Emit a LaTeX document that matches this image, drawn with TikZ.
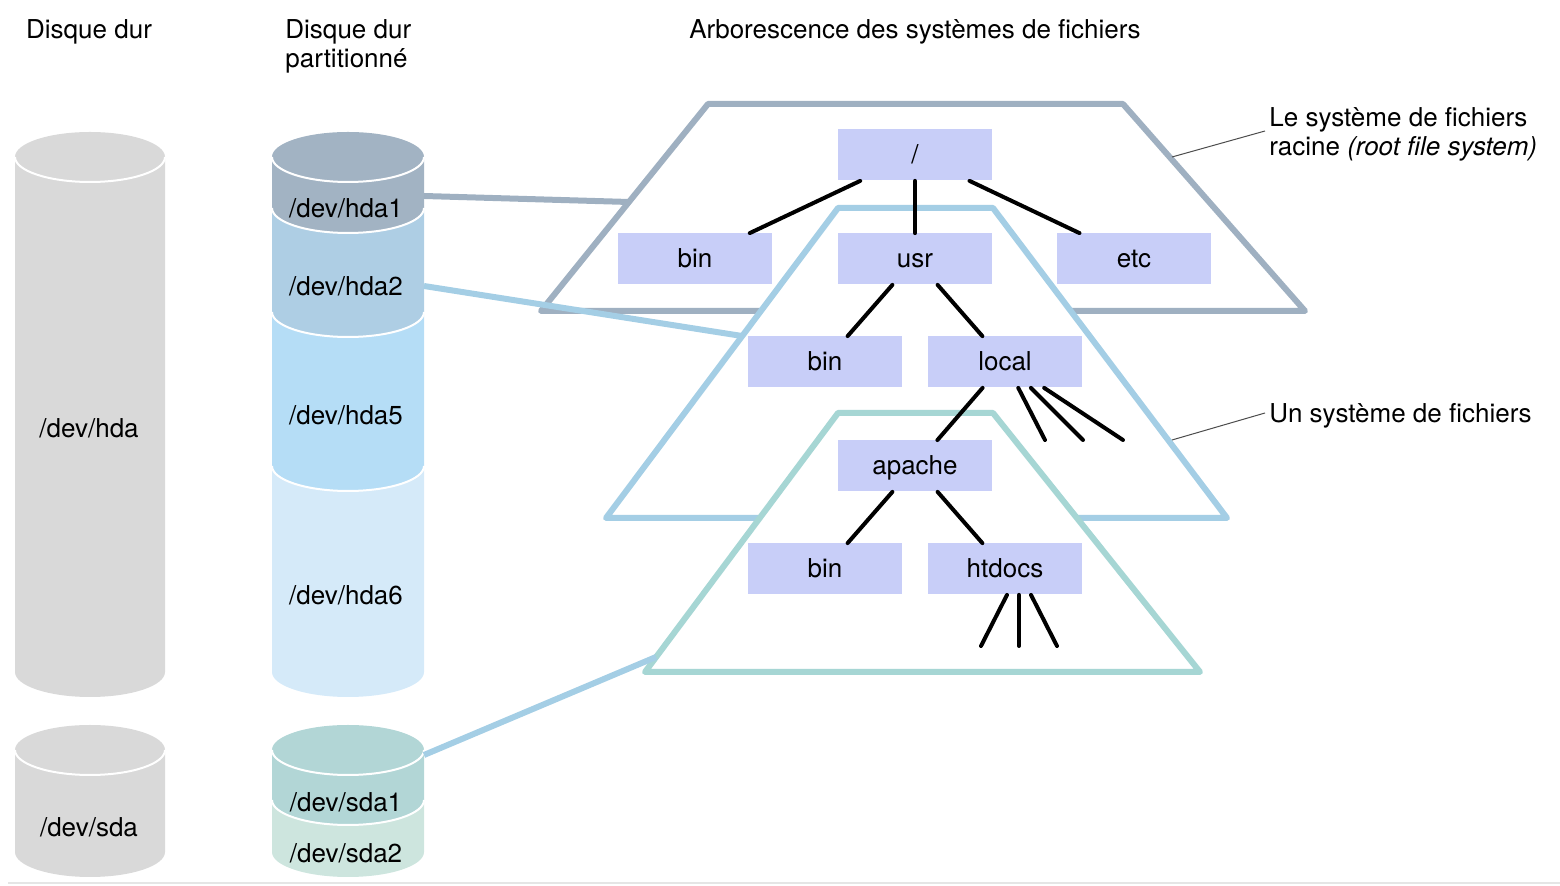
\documentclass[tikz,border=0pt]{standalone}
\usepackage{fontspec}
\setmainfont{TeX Gyre Heros}
\usetikzlibrary{calc,positioning}
\definecolor{diskgrey}{RGB}{217,217,217}
\definecolor{partA}{RGB}{162,179,195}
\definecolor{partB}{RGB}{174,206,228}
\definecolor{partC}{RGB}{181,221,246}
\definecolor{partD}{RGB}{213,234,249}
\definecolor{sdaA}{RGB}{178,214,214}
\definecolor{sdaB}{RGB}{205,229,222}
\definecolor{rootline}{RGB}{159,176,193}
\definecolor{fsline}{RGB}{164,206,229}
\definecolor{subline}{RGB}{166,214,212}
\definecolor{boxfill}{RGB}{200,206,248}
\newcommand{\lblfont}{\fontsize{13}{14.5}\selectfont}
\tikzset{
  title/.style  ={inner sep=0pt, font=\lblfont},
  disklbl/.style={inner sep=0pt, font=\lblfont},
  rim/.style    ={white, line width=1pt},
  fsbox/.style  ={rectangle, fill=boxfill, minimum width=77pt, minimum height=25.5pt,
                  inner sep=0pt, text height=10.5pt, text depth=1.5pt, font=\lblfont},
  fsedge/.style ={black, line width=2pt, line cap=round},
  trap/.style   ={line width=3pt, line join=round, fill=white},
  trroot/.style ={trap, draw=rootline},
  trfs/.style   ={trap, draw=fsline},
  trsub/.style  ={trap, draw=subline},
  link/.style   ={line width=3pt},
  callout/.style={black!70, line width=0.5pt},
  sidelbl/.style={inner sep=2pt, anchor=west, align=left, font=\lblfont},
}

\begin{document}
\begin{tikzpicture}[x=0.5pt,y=-0.5pt]
\useasboundingbox (0,0) rectangle (1560,886);

% titles
\node[title] (tdisk) at (89,32) {Disque dur};
\node[title, align=left, anchor=west] (tpart) at (285,46) {Disque dur\\partitionné};
\node[title] (ttree) at (915,32) {Arborescence des systèmes de fichiers};

% plain disks
\foreach \t/\b in {157/672, 750/852} {
  \fill[diskgrey] (15,\t) -- (15,\b) arc[start angle=180, end angle=0, x radius=75, y radius=25] -- (165,\t) -- cycle;
  \fill[diskgrey] (90,\t) ellipse[x radius=75, y radius=25];
  \draw[rim] (15,\t) arc[start angle=180, end angle=0, x radius=75, y radius=25];
}
\node[disklbl] (hda) at (89,428) {/dev/hda};
\node[disklbl] (sda) at (89,827) {/dev/sda};

% partitioned disks
\foreach \t/\b/\c in {466/672/partD, 312/466/partC, 208/312/partB, 157/208/partA,
                      800/852/sdaB, 750/800/sdaA} {
  \fill[\c] (272,\t) -- (272,\b) arc[start angle=180, end angle=0, x radius=76, y radius=25] -- (424,\t) -- cycle;
}
\fill[partA] (348,157) ellipse[x radius=76, y radius=25];
\fill[sdaA] (348,750) ellipse[x radius=76, y radius=25];
\foreach \b in {157,208,312,466,750,800}
  \draw[rim] (272,\b) arc[start angle=180, end angle=0, x radius=76, y radius=25];

\node[disklbl] (hda1) at (346,208) {/dev/hda1};
\node[disklbl] (hda2) at (346,286) {/dev/hda2};
\node[disklbl] (hda5) at (346,415) {/dev/hda5};
\node[disklbl] (hda6) at (346,595) {/dev/hda6};
\node[disklbl] (sda1) at (346,802) {/dev/sda1};
\node[disklbl] (sda2) at (346,853) {/dev/sda2};

% file system trees
\draw[trroot] (708,104) -- (1123,104) -- (1305,311) -- (541,311) -- cycle;
\draw[trfs] (838,208) -- (993,208) -- (1227,518) -- (606,518) -- cycle;
\draw[trsub] (838,413) -- (993,413) -- (1200,672) -- (645,672) -- cycle;

% partitions to file systems
\coordinate (hda1 out) at (424,196);  \coordinate (hda1 in) at (629,202);
\coordinate (hda2 out) at (424,286);  \coordinate (hda2 in) at (742,336);
\coordinate (sda1 out) at (424,755);  \coordinate (sda1 in) at (656,657);
\draw[link, rootline] (hda1 out) -- (hda1 in);
\draw[link, fsline] (hda2 out) -- (hda2 in);
\draw[link, fsline] (sda1 out) -- (sda1 in);

\node[fsbox] (root)   at (915,155)  {/};
\node[fsbox] (bin)    at (695,259)  {bin};
\node[fsbox] (usr)    at (915,259)  {usr};
\node[fsbox] (etc)    at (1134,259) {etc};
\node[fsbox] (usrbin) at (825,362)  {bin};
\node[fsbox] (local)  at (1005,362) {local};
\node[fsbox] (apache) at (915,466)  {apache};
\node[fsbox] (apbin)  at (825,569)  {bin};
\node[fsbox] (htdocs) at (1005,569) {htdocs};

\draw[fsedge] (root) -- (bin);
\draw[fsedge] (root) -- (usr);
\draw[fsedge] (root) -- (etc);
\draw[fsedge] (usr) -- (usrbin);
\draw[fsedge] (usr) -- (local);
\draw[fsedge] (local) -- (apache);
\draw[fsedge] (apache) -- (apbin);
\draw[fsedge] (apache) -- (htdocs);

% loose branches
\coordinate (l1) at (1045,440); \coordinate (l2) at (1083,440); \coordinate (l3) at (1123,440);
\coordinate (h1) at (981,646);  \coordinate (h2) at (1019,646); \coordinate (h3) at (1057,646);
\foreach \e in {l1,l2,l3} \draw[fsedge] (local) -- (\e);
\draw[fsedge] ($(htdocs.south)+(2,0)$) -- (h1);
\draw[fsedge] ($(htdocs.south)+(14,0)$) -- (h2);
\draw[fsedge] ($(htdocs.south)+(26,0)$) -- (h3);

% side labels
\node[sidelbl] (rootlbl) at (1265,134) {Le système de fichiers\\racine \textit{(root file system)}};
\node[sidelbl] (fslbl) at (1265,416) {Un système de fichiers};
\coordinate (roottip) at (1172,157);
\coordinate (fstip) at (1172,440);
\draw[callout] (roottip) -- ($(rootlbl.west)+(0,-3)$);
\draw[callout] (fstip) -- ($(fslbl.west)+(0,-3)$);

% bottom rule
\draw[black!10, line width=1pt] (8,883) -- (1560,883);
\end{tikzpicture}
\end{document}
